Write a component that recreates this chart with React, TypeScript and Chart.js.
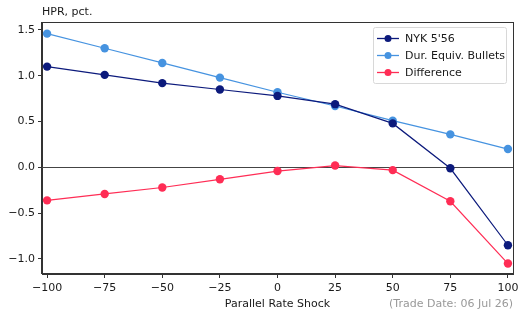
import React, { useEffect, useRef } from "react";
import { Chart, registerables } from "chart.js";

Chart.register(...registerables);

const shocks = [-100, -75, -50, -25, 0, 25, 50, 75, 100];
const nykValues = [1.1, 1.01, 0.92, 0.85, 0.78, 0.69, 0.48, -0.01, -0.85];
const bulletValues = [1.46, 1.3, 1.14, 0.98, 0.82, 0.67, 0.51, 0.36, 0.2];
const diffValues = [-0.36, -0.29, -0.22, -0.13, -0.04, 0.02, -0.03, -0.37, -1.05];
const xTicks = [-100, -75, -50, -25, 0, 25, 50, 75, 100];
const yTicks = [-1.0, -0.5, 0.0, 0.5, 1.0, 1.5];
const seriesLabels = ["NYK 5'56", "Dur. Equiv. Bullets", "Difference"];
const seriesColors = ["#0c1a7c", "#4693e0", "#ff2d55"];
const yTitle = "HPR, pct.";
const xTitle = "Parallel Rate Shock";
const tradeDate = "(Trade Date: 06 Jul 26)";

const FONT = "DejaVu Sans";

const fmtMinus = (s: string) => s.replace("-", "\u2212");

export default function App() {
  const ref = useRef<HTMLCanvasElement | null>(null);

  useEffect(() => {
    document.body.style.margin = "0";
    const canvas = ref.current!;
    const series = [nykValues, bulletValues, diffValues];

    const overlay = {
      id: "overlay",
      beforeDatasetsDraw(chart: any) {
        const { ctx, chartArea, scales } = chart;
        const y0 = Math.round(scales.y.getPixelForValue(0)) + 0.5;
        ctx.save();
        ctx.strokeStyle = "#444";
        ctx.lineWidth = 1;
        ctx.beginPath();
        ctx.moveTo(chartArea.left, y0);
        ctx.lineTo(chartArea.right, y0);
        ctx.stroke();
        ctx.restore();
      },
      afterDraw(chart: any) {
        const { ctx, chartArea } = chart;
        ctx.save();
        // frame
        ctx.strokeStyle = "#333";
        ctx.lineWidth = 1;
        ctx.strokeRect(
          Math.round(chartArea.left) - 0.5,
          Math.round(chartArea.top) + 0.5,
          Math.round(chartArea.right - chartArea.left) + 1,
          Math.round(chartArea.bottom - chartArea.top) - 1
        );
        // titles
        ctx.fillStyle = "#1a1a1a";
        ctx.font = `11px '${FONT}'`;
        ctx.textBaseline = "alphabetic";
        ctx.textAlign = "left";
        ctx.fillText(yTitle, chartArea.left, 15);
        ctx.textAlign = "center";
        ctx.fillText(xTitle, (chartArea.left + chartArea.right) / 2, 307);
        ctx.textAlign = "right";
        ctx.fillStyle = "#999";
        ctx.fillText(tradeDate, chartArea.right, 307);

        // legend
        const lx = 373, ly = 27, lw = 133, lh = 56;
        ctx.fillStyle = "rgba(255,255,255,0.85)";
        ctx.strokeStyle = "#d8d8d8";
        ctx.lineWidth = 1;
        ctx.beginPath();
        (ctx as any).roundRect(lx + 0.5, ly + 0.5, lw, lh, 2);
        ctx.fill();
        ctx.stroke();
        ctx.font = `11px '${FONT}'`;
        ctx.textAlign = "left";
        ctx.textBaseline = "middle";
        seriesLabels.forEach((lab, i) => {
          const yy = 38.5 + i * 17;
          ctx.strokeStyle = seriesColors[i];
          ctx.lineWidth = 1.3;
          ctx.beginPath();
          ctx.moveTo(377, yy);
          ctx.lineTo(399, yy);
          ctx.stroke();
          ctx.fillStyle = seriesColors[i];
          ctx.beginPath();
          ctx.arc(388, yy, 3.5, 0, Math.PI * 2);
          ctx.fill();
          ctx.fillStyle = "#1a1a1a";
          ctx.fillText(lab, 405, yy + 0.5);
        });
        ctx.restore();
      },
    };

    const chart = new Chart(canvas, {
      type: "line",
      data: {
        datasets: series.map((vals, i) => ({
          label: seriesLabels[i],
          data: shocks.map((x, j) => ({ x, y: vals[j] })),
          borderColor: seriesColors[i],
          backgroundColor: seriesColors[i],
          borderWidth: 1.2,
          pointRadius: 4.2,
          pointBorderWidth: 0,
          pointHoverRadius: 4.2,
          tension: 0,
        })),
      },
      options: {
        animation: false,
        responsive: false,
        devicePixelRatio: 1,
        events: [],
        layout: { padding: { top: 22, right: 6, left: 0, bottom: 0 } },
        plugins: { legend: { display: false }, tooltip: { enabled: false } },
        scales: {
          x: {
            type: "linear",
            min: -102.2,
            max: 102.2,
            afterBuildTicks(axis: any) {
              axis.ticks = xTicks.map((v) => ({ value: v }));
            },
            afterFit(axis: any) {
              axis.height = 40;
              axis.paddingLeft = 0;
              axis.paddingRight = 0;
            },
            grid: {
              drawOnChartArea: false,
              drawTicks: true,
              tickLength: 4,
              color: "#333",
            },
            border: { display: true, color: "#333" },
            ticks: {
              color: "#1a1a1a",
              font: { family: FONT, size: 11 },
              padding: 4,
              maxRotation: 0,
              autoSkip: false,
              callback: (v: any) => fmtMinus(String(v)),
            },
          },
          y: {
            type: "linear",
            min: -1.164,
            max: 1.587,
            afterBuildTicks(axis: any) {
              axis.ticks = yTicks.map((v) => ({ value: v }));
            },
            afterFit(axis: any) {
              axis.width = 42;
              axis.paddingTop = 0;
              axis.paddingBottom = 0;
            },
            grid: {
              drawOnChartArea: false,
              drawTicks: true,
              tickLength: 4,
              color: "#333",
            },
            border: { display: true, color: "#333" },
            ticks: {
              color: "#1a1a1a",
              font: { family: FONT, size: 11 },
              padding: 3,
              autoSkip: false,
              callback: (v: any) => fmtMinus(Number(v).toFixed(1)),
            },
          },
        },
      },
      plugins: [overlay],
    } as any);

    return () => chart.destroy();
  }, []);

  return (
    <div style={{ position: "absolute", left: 0, top: 0, width: 519, height: 314 }}>
      <canvas ref={ref} width={519} height={314} style={{ width: 519, height: 314 }} />
    </div>
  );
}
